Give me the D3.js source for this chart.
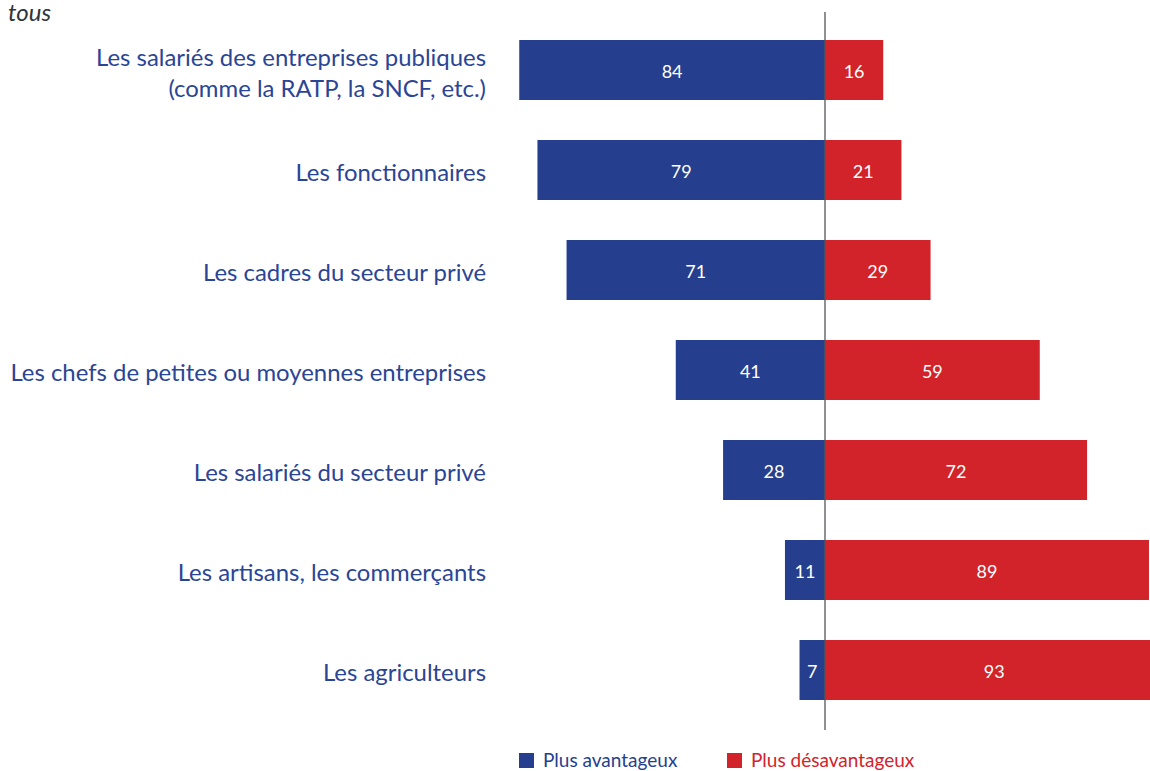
<!DOCTYPE html>
<html>
<head>
<meta charset="utf-8">
<script src="https://cdn.jsdelivr.net/npm/d3@7"></script>
<style>
  body { margin: 0; background: #fff; }
  svg { display: block; }
</style>
</head>
<body>
<script>
  let categories = [
    ["Les salariés des entreprises publiques", "(comme la RATP, la SNCF, etc.)"],
    ["Les fonctionnaires"],
    ["Les cadres du secteur privé"],
    ["Les chefs de petites ou moyennes entreprises"],
    ["Les salariés du secteur privé"],
    ["Les artisans, les commerçants"],
    ["Les agriculteurs"]
  ];
  let avantageux = [84, 79, 71, 41, 28, 11, 7];
  let desavantageux = [16, 21, 29, 59, 72, 89, 93];
  let seriesNames = ["Plus avantageux", "Plus désavantageux"];
  let blue = "#253f8e", red = "#d2232a", labelBlue = "#2b4596";
  let font = "Lato, 'Open Sans', sans-serif";

  let width = 1150, height = 771;

  const svg = d3.select("body")
    .append("svg")
    .attr("width", width)
    .attr("height", height);

  // scales
  let x = d3.scaleLinear()
    .domain([-100, 100])
    .range([461, 1189]);

  let keys = categories.map((d, i) => i);
  let y = d3.scaleBand()
    .domain(keys)
    .range([20, 720])
    .paddingInner(0.4)
    .paddingOuter(0.2);

  // cut off title remnant
  svg.append("text")
    .text("tous")
    .attr("x", 8)
    .attr("y", 21)
    .style("font-family", font)
    .style("font-style", "italic")
    .style("font-size", "24px")
    .attr("fill", "#333");

  // fit label size so the longest line is about 476px wide
  let probe = svg.append("text")
    .text("Les chefs de petites ou moyennes entreprises")
    .style("font-family", font)
    .style("font-size", "100px");
  let labelSize = 100 * 476 / probe.node().getComputedTextLength();
  probe.remove();

  // bars
  svg.append("g").selectAll("rect")
    .data(keys)
    .enter()
    .append("rect")
    .attr("x", (d) => x(-avantageux[d]))
    .attr("y", (d) => y(d))
    .attr("width", (d) => x(0) - x(-avantageux[d]))
    .attr("height", y.bandwidth())
    .attr("fill", blue);

  svg.append("g").selectAll("rect")
    .data(keys)
    .enter()
    .append("rect")
    .attr("x", x(0))
    .attr("y", (d) => y(d))
    .attr("width", (d) => x(desavantageux[d]) - x(0))
    .attr("height", y.bandwidth())
    .attr("fill", red);

  // value labels
  svg.append("g").selectAll("text")
    .data(keys)
    .enter()
    .append("text")
    .text((d) => avantageux[d])
    .attr("x", (d) => (x(-avantageux[d]) + x(0)) / 2)
    .attr("y", (d) => y(d) + y.bandwidth() / 2 + 2)
    .attr("dy", "0.35em")
    .attr("text-anchor", "middle")
    .attr("fill", "#fff")
    .style("font-family", font)
    .style("font-size", "18px");

  svg.append("g").selectAll("text")
    .data(keys)
    .enter()
    .append("text")
    .text((d) => desavantageux[d])
    .attr("x", (d) => (x(0) + x(desavantageux[d])) / 2)
    .attr("y", (d) => y(d) + y.bandwidth() / 2 + 2)
    .attr("dy", "0.35em")
    .attr("text-anchor", "middle")
    .attr("fill", "#fff")
    .style("font-family", font)
    .style("font-size", "18px");

  // center line
  svg.append("line")
    .attr("x1", x(0))
    .attr("x2", x(0))
    .attr("y1", 12)
    .attr("y2", 730)
    .attr("stroke", "#555")
    .attr("stroke-width", 1.3);

  // category labels
  let labels = svg.append("g").selectAll("text")
    .data(keys)
    .enter()
    .append("text")
    .attr("text-anchor", "end")
    .attr("fill", labelBlue)
    .style("font-family", font)
    .style("font-size", labelSize + "px");

  labels.selectAll("tspan")
    .data((d) => categories[d].map((t, j) => ({t: t, j: j, n: categories[d].length, k: d})))
    .enter()
    .append("tspan")
    .attr("x", 486)
    .attr("y", (d) => y(d.k) + y.bandwidth() / 2 + 3 + (d.j - (d.n - 1) / 2) * 31)
    .attr("dy", "0.35em")
    .text((d) => d.t);

  // legend
  let legendX = [519, 727];
  let legendColors = [blue, red];
  let legend = svg.append("g");
  legend.selectAll("rect")
    .data(seriesNames)
    .enter()
    .append("rect")
    .attr("x", (d, i) => legendX[i])
    .attr("y", 753)
    .attr("width", 15)
    .attr("height", 15)
    .attr("fill", (d, i) => legendColors[i]);

  legend.selectAll("text")
    .data(seriesNames)
    .enter()
    .append("text")
    .text((d) => d)
    .attr("x", (d, i) => legendX[i] + 24)
    .attr("y", 760)
    .attr("dy", "0.35em")
    .attr("fill", (d, i) => legendColors[i])
    .style("font-family", font)
    .style("font-size", "19px");
</script>
</body>
</html>
